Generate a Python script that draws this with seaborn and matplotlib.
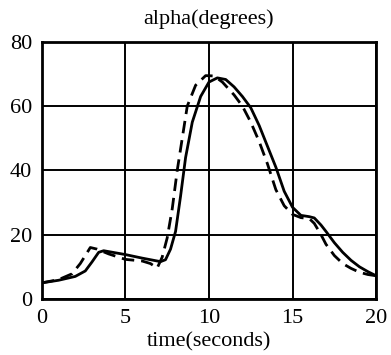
import matplotlib
matplotlib.use("Agg")
import matplotlib.pyplot as plt
import seaborn as sns
import pandas as pd

# Solid curve (time, alpha)
t_solid = [0, 1, 2, 2.6, 3.0, 3.4, 3.7, 5, 6, 7.1, 7.4, 7.7, 8.0, 8.3, 8.6, 9.0, 9.5,
           10.0, 10.5, 11.0, 11.5, 12.0, 12.5, 13.0, 13.5, 14.0, 14.5, 15.0, 15.5,
           16.0, 16.3, 16.7, 17.0, 17.5, 18.0, 18.5, 19.0, 19.5, 20.0]
a_solid = [5.0, 5.8, 7.0, 8.7, 11.5, 14.5, 15.0, 13.8, 12.7, 11.6, 12.2, 15.5, 21, 32, 44,
           55, 63, 67.5, 68.8, 68.3, 66, 63, 59.5, 54, 47.5, 41, 33.5, 28.5, 26.0,
           25.6, 25.2, 23, 21, 17.5, 14.5, 12, 10, 8.5, 7.2]

# Dashed curve (time, alpha)
t_dash = [0, 1, 1.8, 2.3, 2.9, 3.3, 4, 5, 6, 6.5, 6.9, 7.2, 7.5, 7.8, 8.1, 8.4, 8.7, 9.2,
          9.8, 10.3, 10.8, 11.5, 12, 12.5, 13, 13.5, 14, 14.5, 15, 15.5, 16, 16.3,
          16.7, 17, 17.5, 18, 18.5, 19, 19.5, 20]
a_dash = [5.0, 6.0, 7.8, 11, 16, 15.5, 14, 12.3, 11.8, 11, 9.6, 13, 19, 28, 40, 50, 60, 66.5,
          69.5, 69.4, 67.5, 63.5, 60, 55, 49, 42, 34, 29, 26.3, 25.3, 25, 23.5,
          20, 17, 13.5, 11, 9.5, 8.3, 7.6, 7.2]

x_ticks = [0, 5, 10, 15, 20]
y_ticks = [0, 20, 40, 60, 80]

sns.set_style("whitegrid")
plt.rcParams['font.family'] = ['Liberation Serif', 'DejaVu Serif']

fig = plt.figure(figsize=(3.91, 3.55), dpi=100)
ax = fig.add_axes([0.107, 0.158, 0.855, 0.724])

df_s = pd.DataFrame({"t": t_solid, "a": a_solid})
df_d = pd.DataFrame({"t": t_dash, "a": a_dash})
sns.lineplot(data=df_s, x="t", y="a", ax=ax, color="black", linewidth=2.0, sort=False)
sns.lineplot(data=df_d, x="t", y="a", ax=ax, color="black", linewidth=2.0, sort=False,
             linestyle=(0, (4.5, 2.5)))

ax.set_xlim(0, 20)
ax.set_ylim(0, 80)
ax.set_xticks(x_ticks)
ax.set_yticks(y_ticks)
ax.grid(True, color="black", linewidth=1.4)
for s in ax.spines.values():
    s.set_color("black")
    s.set_linewidth(2.0)
    s.set_visible(True)
ax.tick_params(axis="both", labelsize=16, length=0, colors="black")
ax.tick_params(axis="y", pad=7)
ax.tick_params(axis="x", pad=7)
ax.set_title("alpha(degrees)", fontsize=16, pad=13, color="black")
ax.set_xlabel("time(seconds)", fontsize=16, labelpad=3, color="black")
ax.set_ylabel("")

fig.savefig("out.png", dpi=100)
